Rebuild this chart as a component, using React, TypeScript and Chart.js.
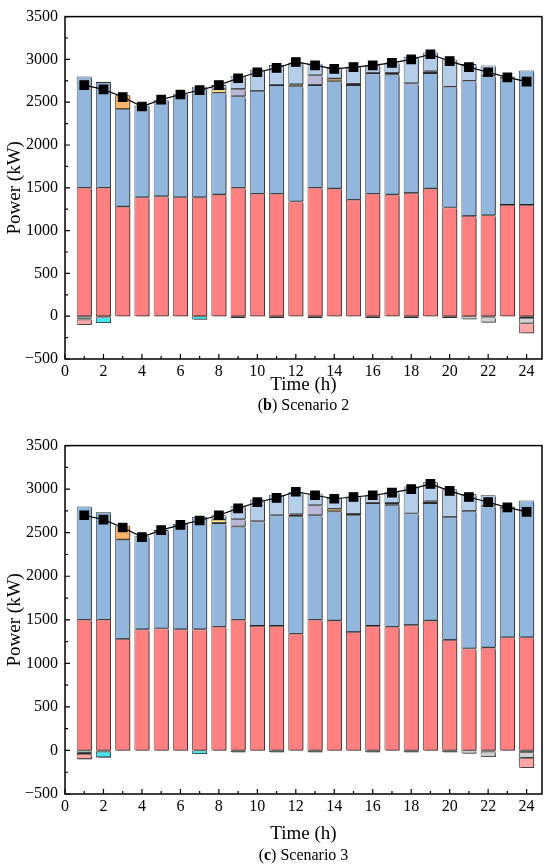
import React, { useEffect, useRef } from 'react'
import { Chart, registerables } from 'chart.js'

Chart.register(...registerables)

// hours of the day
const hours = [1, 2, 3, 4, 5, 6, 7, 8, 9, 10, 11, 12, 13, 14, 15, 16, 17, 18, 19, 20, 21, 22, 23, 24]

// positive stack, bottom to top (kW)
const redPart = [1500, 1500, 1280, 1390, 1400, 1390, 1390, 1420, 1500, 1430, 1430, 1340, 1500, 1490, 1360, 1430, 1420, 1440, 1490, 1270, 1170, 1180, 1300, 1300]
const bluePart = [1300, 1235, 1140, 1070, 1130, 1210, 1290, 1190, 1070, 1200, 1270, 1350, 1200, 1255, 1340, 1410, 1400, 1280, 1350, 1410, 1580, 1630, 1480, 1570]
const goldPart = [null, null, null, null, null, null, null, null, null, null, null, 20, null, 30, 15, null, 20, null, 20, null, null, null, 20, null]
const orangePart = [null, null, 160, null, null, null, null, null, null, null, null, null, null, null, null, null, null, null, null, null, null, null, null, null]
const yellowPart = [null, null, null, null, null, null, null, 40, null, null, null, null, null, null, null, null, null, null, null, null, null, null, null, null]
const lavenderPart = [null, null, null, null, null, null, null, null, 85, null, null, null, 115, null, null, null, null, null, null, null, null, null, null, null]
const lightBluePart = [null, null, null, null, null, null, null, 50, 155, 250, 235, 255, 135, 125, 200, 95, 125, 310, 220, 320, 195, 120, null, null]

// negative stack, from zero downwards (kW)
const greenPart = [-25, null, null, null, null, null, null, null, null, null, null, null, null, null, null, null, null, null, null, null, null, null, null, null]
const darkPart = [-15, -15, null, null, null, null, null, null, -20, null, -20, null, -20, null, null, -20, null, -20, null, -20, null, -15, null, -20]
const cyanPart = [null, -65, null, null, null, null, -40, null, null, null, null, null, null, null, null, null, null, null, null, null, null, null, null, null]
const grayPart = [null, null, null, null, null, null, null, null, null, null, null, null, null, null, null, null, null, null, null, null, -35, -60, null, -65]
const pinkPart = [-60, null, null, null, null, null, null, null, null, null, null, null, null, null, null, null, null, null, null, null, null, null, null, -115]

// load curve (kW)
const load = [2700, 2650, 2560, 2450, 2530, 2590, 2640, 2700, 2780, 2850, 2900, 2970, 2930, 2890, 2910, 2930, 2960, 3000, 3060, 2980, 2910, 2850, 2790, 2740]

const serif = "'Liberation Serif', 'Times New Roman', serif"

const barStyle = (data: (number | null)[], color: string) => ({
  type: 'bar' as const,
  data,
  backgroundColor: color,
  borderColor: '#2b2b2b',
  borderWidth: 0.8,
  borderSkipped: false,
  stack: 'a',
  barPercentage: 0.78,
  categoryPercentage: 1
})

// draws the bars bottom-up with a small drop shadow, then the load line, then frame + inward ticks
const framePlugin = {
  id: 'frame',
  beforeDatasetsDraw(chart: any) {
    const ctx = chart.ctx
    const n = chart.data.datasets.length
    for (let i = 0; i < n; i++) {
      const meta = chart.getDatasetMeta(i)
      if (meta.type !== 'bar') continue
      ctx.save()
      ctx.shadowColor = 'rgba(30,30,30,0.85)'
      ctx.shadowOffsetX = 1.5
      ctx.shadowOffsetY = 1.5
      ctx.shadowBlur = 0
      meta.controller.draw()
      ctx.restore()
    }
    for (let i = 0; i < n; i++) {
      const meta = chart.getDatasetMeta(i)
      if (meta.type === 'bar') continue
      meta.controller.draw()
    }
    return false
  },
  afterDraw(chart: any) {
    const { ctx, chartArea: a, scales } = chart
    ctx.save()
    ctx.strokeStyle = '#000'
    ctx.lineWidth = 1.5
    ctx.strokeRect(a.left, a.top, a.right - a.left, a.bottom - a.top)
    ctx.lineWidth = 1.2
    ctx.beginPath()
    for (let v = 0; v <= 24; v++) {
      const px = scales.x.getPixelForValue(v)
      const len = v % 2 === 0 ? 5 : 3
      ctx.moveTo(px, a.bottom)
      ctx.lineTo(px, a.bottom - len)
    }
    for (let v = -500; v <= 3500; v += 250) {
      const py = scales.y.getPixelForValue(v)
      const len = v % 500 === 0 ? 5 : 3
      ctx.moveTo(a.left, py)
      ctx.lineTo(a.left + len, py)
    }
    ctx.stroke()
    ctx.restore()
  }
}

const Panel: React.FC<{ top: number; height: number; axisHeight: number }> = ({ top, height, axisHeight }) => {
  const canvasRef = useRef<HTMLCanvasElement | null>(null)
  const chartRef = useRef<Chart | null>(null)

  useEffect(() => {
    if (!canvasRef.current) return
    if (chartRef.current) chartRef.current.destroy()

    chartRef.current = new Chart(canvasRef.current, {
      data: {
        labels: hours,
        datasets: [
          barStyle(redPart, '#FF8080'),
          barStyle(bluePart, '#93B6DC'),
          barStyle(goldPart, '#C9A04A'),
          barStyle(orangePart, '#F9B46A'),
          barStyle(yellowPart, '#FFE47E'),
          barStyle(lavenderPart, '#BAB8D6'),
          barStyle(lightBluePart, '#B4CDE9'),
          barStyle(greenPart, '#9CE0B2'),
          barStyle(darkPart, '#3E5E50'),
          barStyle(cyanPart, '#45E6F0'),
          barStyle(grayPart, '#CFCFCF'),
          barStyle(pinkPart, '#FFA6A9'),
          {
            type: 'line',
            data: load,
            borderColor: '#000',
            borderWidth: 1.2,
            pointStyle: 'rect',
            pointRadius: 6,
            pointBackgroundColor: '#000',
            pointBorderColor: '#000'
          }
        ]
      } as any,
      options: {
        animation: false,
        responsive: true,
        maintainAspectRatio: false,
        layout: { padding: { top: 12, right: 8, left: 0, bottom: 0 } },
        plugins: { legend: { display: false }, tooltip: { enabled: false } },
        scales: {
          x: {
            type: 'linear',
            min: 0,
            max: 24.8,
            offset: false,
            grid: { display: false, drawTicks: false },
            border: { display: false },
            ticks: { stepSize: 2, includeBounds: false, padding: 3, color: '#000', font: { family: serif, size: 16 } },
            title: { display: true, text: 'Time (h)', color: '#000', font: { family: serif, size: 19 }, padding: { top: 0, bottom: 2 } },
            afterFit: (scale: any) => { scale.height = axisHeight }
          },
          y: {
            stacked: true,
            min: -500,
            max: 3500,
            grid: { display: false, drawTicks: false },
            border: { display: false },
            ticks: {
              stepSize: 500,
              padding: 7,
              color: '#000',
              font: { family: serif, size: 16 },
              callback: (v: any) => (v < 0 ? '\u2212' + Math.abs(v) : String(v))
            },
            title: { display: true, text: 'Power (kW)', color: '#000', font: { family: serif, size: 19 }, padding: { top: 4, bottom: 0 } },
            afterFit: (scale: any) => { scale.width = 65 }
          }
        }
      } as any,
      plugins: [framePlugin]
    })

    return () => {
      if (chartRef.current) chartRef.current.destroy()
    }
  }, [height, axisHeight])

  return (
    <div style={{ position: 'absolute', left: 0, top, width: 550, height }}>
      <canvas ref={canvasRef}></canvas>
    </div>
  )
}

const captionStyle = (top: number): React.CSSProperties => ({
  position: 'absolute',
  top,
  left: 65,
  width: 477,
  textAlign: 'center',
  fontFamily: serif,
  fontSize: 16,
  lineHeight: '20px',
  height: 20,
  color: '#000'
})

const App: React.FC = () => {
  return (
    <div style={{ position: 'fixed', left: 0, top: 0, width: 550, height: 866, background: '#fff' }}>
      <Panel top={0} height={398} axisHeight={39} />
      <div style={captionStyle(395)}>
        (<b>b</b>) Scenario 2
      </div>
      <Panel top={429} height={418} axisHeight={53} />
      <div style={captionStyle(845)}>
        (<b>c</b>) Scenario 3
      </div>
    </div>
  )
}

export default App
